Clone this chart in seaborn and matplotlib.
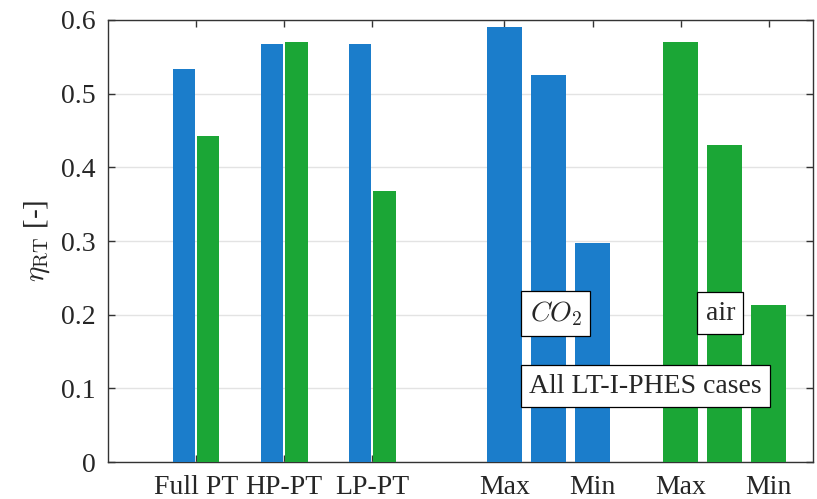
import numpy as np
import pandas as pd
import matplotlib
matplotlib.use("Agg")
import matplotlib.pyplot as plt
import seaborn as sns

# ---- data ----
group_labels = ["Full PT", "HP-PT", "LP-PT"]
group_co2 = [0.533, 0.567, 0.567]
group_air = [0.443, 0.570, 0.368]
co2_cases = [0.590, 0.525, 0.297]
air_cases = [0.570, 0.430, 0.213]
tick_labels = ["Full PT", "HP-PT", "LP-PT", "Max", "Min", "Max", "Min"]
yticks = [0, 0.1, 0.2, 0.3, 0.4, 0.5, 0.6]

BLUE = "#1B7DCB"
GREEN = "#1BA636"

sns.set_theme(style="white")
plt.rcParams["font.family"] = ["Liberation Serif", "DejaVu Serif"]
plt.rcParams["mathtext.fontset"] = "cm"

fig = plt.figure(figsize=(8.17, 4.99), dpi=100)
ax = fig.add_axes([0.132, 0.074, 0.863, 0.886])

# grouped bars (positions 1..3)
gpos = np.arange(1, len(group_labels) + 1)
df_g = pd.DataFrame({
    "x": np.concatenate([gpos, gpos]),
    "y": group_co2 + group_air,
    "fluid": ["CO2"] * len(gpos) + ["air"] * len(gpos),
})
sns.barplot(data=df_g, x="x", y="y", hue="fluid", hue_order=["CO2", "air"],
            palette=[BLUE, GREEN], native_scale=True, width=0.56, gap=0.1,
            saturation=1, errorbar=None, linewidth=0, legend=False, ax=ax, zorder=3)

# all LT-I-PHES cases
co2_pos = 4.5 + 0.5 * np.arange(len(co2_cases))
air_pos = 6.5 + 0.5 * np.arange(len(air_cases))
df_c = pd.DataFrame({"x": co2_pos, "y": co2_cases})
df_a = pd.DataFrame({"x": air_pos, "y": air_cases})
sns.barplot(data=df_c, x="x", y="y", color=BLUE, native_scale=True, width=0.8,
            saturation=1, errorbar=None, linewidth=0, ax=ax, zorder=3)
sns.barplot(data=df_a, x="x", y="y", color=GREEN, native_scale=True, width=0.8,
            saturation=1, errorbar=None, linewidth=0, ax=ax, zorder=3)

ax.set_xlim(0, 8)
ax.set_ylim(0, 0.6)
xt = list(gpos) + [co2_pos[0], co2_pos[-1], air_pos[0], air_pos[-1]]
ax.set_xticks(xt)
ax.set_xticklabels(tick_labels, fontsize=20)
ax.set_yticks(yticks)
ax.set_yticklabels([("0" if v == 0 else f"{v:.1f}") for v in yticks], fontsize=20)
ax.set_xlabel("")
ax.set_ylabel(r"$\eta_{\rm RT}$ [-]", fontsize=21, labelpad=6)

ax.yaxis.grid(True, color="#e3e3e3", linewidth=1.0, zorder=0)
ax.set_axisbelow(True)
ax.tick_params(direction="in", top=True, right=True, length=5, width=1,
               color="#333333", pad=9, bottom=True, left=True)
for s in ax.spines.values():
    s.set_visible(True)
    s.set_color("#333333")
    s.set_linewidth(1.0)

box = dict(boxstyle="square,pad=0.3", facecolor="white", edgecolor="black", linewidth=0.9)
ax.text(5.08, 0.202, r"$CO_2$", ha="center", va="center", fontsize=20, bbox=box, zorder=5)
ax.text(6.95, 0.202, "air", ha="center", va="center", fontsize=20, bbox=box, zorder=5)
ax.text(6.1, 0.103, "All LT-I-PHES cases", ha="center", va="center", fontsize=20, bbox=box, zorder=5)

fig.savefig("out.png", dpi=100)
